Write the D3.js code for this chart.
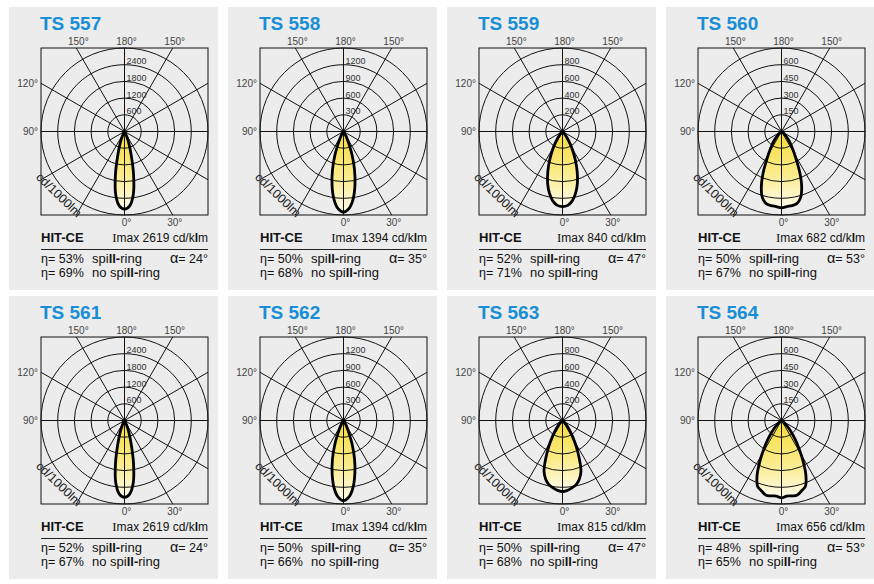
<!DOCTYPE html>
<html><head><meta charset="utf-8">
<script src="https://cdn.jsdelivr.net/npm/d3@7"></script>
<style>
body{margin:0;background:#fff}
svg{display:block}
text{font-family:"Liberation Sans",Arial,Helvetica,sans-serif}
</style>
</head><body>
<svg id="chart" width="874" height="584"></svg>
<script>
// ---------- data ----------
const panelNames = ["TS 557","TS 558","TS 559","TS 560","TS 561","TS 562","TS 563","TS 564"];
const lampTypes = ["HIT-CE","HIT-CE","HIT-CE","HIT-CE","HIT-CE","HIT-CE","HIT-CE","HIT-CE"];
const imaxValues = [2619,1394,840,682,2619,1394,815,656];
const etaSpill = [53,50,52,50,52,50,50,48];
const etaNoSpill = [69,68,71,67,67,66,68,65];
const alphaValues = [24,35,47,53,24,35,47,53];
const ringSteps = [600,300,200,150,600,300,200,150];
const angleTicks = ["180°","150°","150°","120°","90°","0°","30°"];
const unitLabel = "cd/1000lm";
// half-profile angles (degrees from nadir), profile symmetric
const lobeAngles = [0,4,8,12,16,20,24,28,32,36,40,45,50,55,60];
const lobe557 = [2790,2680,2280,1560,860,470,220,70,0,0,0,0,0,0,0];
const lobe558 = [1450,1390,1230,990,720,450,220,110,40,0,0,0,0,0,0];
const lobe559 = [900,887,839,755,647,515,383,264,168,96,48,12,0,0,0];
const lobe560 = [686,676,672,662,620,530,404,278,198,139,99,54,27,0,0];
const lobe561 = [2760,2650,2260,1550,860,470,220,70,0,0,0,0,0,0,0];
const lobe562 = [1440,1380,1220,980,720,450,220,110,40,0,0,0,0,0,0];
const lobe563 = [851,839,815,785,731,647,491,347,228,144,84,36,0,0,0];
const lobe564 = [695,680,684,684,656,629,539,413,296,207,135,72,27,0,0];
const lobeValues = [lobe557,lobe558,lobe559,lobe560,lobe561,lobe562,lobe563,lobe564];

// ---------- layout ----------
const colX = [9,228,447,666];
const rowY = [7,296];
const panelW = 209, panelH = 283;
const cx = 115.5, cy = 124.5, R = 83.5;

const svg = d3.select("#chart");
svg.append("rect").attr("width",874).attr("height",584).attr("fill","#fff");
const defs = svg.append("defs");
const grad = defs.append("linearGradient").attr("id","lobeFill")
  .attr("x1",0).attr("y1",0).attr("x2",0).attr("y2",1);
grad.append("stop").attr("offset","0%").attr("stop-color","#f5db38");
grad.append("stop").attr("offset","55%").attr("stop-color","#faeb8a");
grad.append("stop").attr("offset","100%").attr("stop-color","#fffbec");

const rad = d => d*Math.PI/180;

panelNames.forEach((name,i)=>{
  const px = colX[i%4], py = rowY[Math.floor(i/4)];
  const g = svg.append("g").attr("transform",`translate(${px},${py})`);
  g.append("rect").attr("width",panelW).attr("height",panelH).attr("fill","#ececec");

  const step = ringSteps[i];
  const rScale = d3.scaleLinear().domain([0,step*5]).range([0,R]);
  const c = g.append("g").attr("transform",`translate(${cx},${cy})`);

  // lobe path
  const vals = lobeValues[i];
  let last = vals.findIndex(v=>v===0); if(last<0) last = vals.length-1;
  const pts = [];
  for(let k=last;k>=0;k--) pts.push([lobeAngles[k],vals[k]]);
  for(let k=1;k<=last;k++) pts.push([-lobeAngles[k],vals[k]]);
  const line = d3.lineRadial()
    .angle(d=>Math.PI+rad(d[0]))
    .radius(d=>rScale(d[1]))
    .curve(d3.curveCatmullRom.alpha(0.5));
  const dPath = line(pts)+"Z";
  c.append("path").attr("d",dPath).attr("fill","url(#lobeFill)");

  // rings
  for(let k=1;k<=5;k++){
    c.append("circle").attr("r",rScale(step*k)).attr("fill","none")
      .attr("stroke","#111").attr("stroke-width",1);
  }
  // spokes
  for(let a=0;a<180;a+=30){
    const dx=Math.sin(rad(a)), dy=Math.cos(rad(a));
    const t=Math.min(Math.abs(dx)>1e-9?R/Math.abs(dx):Infinity, Math.abs(dy)>1e-9?R/Math.abs(dy):Infinity);
    c.append("line").attr("x1",-t*dx).attr("y1",-t*dy).attr("x2",t*dx).attr("y2",t*dy)
      .attr("stroke","#111").attr("stroke-width",1);
  }
  // box
  c.append("rect").attr("x",-R).attr("y",-R).attr("width",2*R).attr("height",2*R)
    .attr("fill","none").attr("stroke","#111").attr("stroke-width",1);
  // lobe outline
  c.append("path").attr("d",dPath).attr("fill","none").attr("stroke","#000")
    .attr("stroke-width",2.8).attr("stroke-linejoin","round");

  // ring labels
  for(let k=1;k<=4;k++){
    c.append("text").attr("x",2).attr("y",-rScale(step*k)-0.5)
      .attr("font-size",9).attr("fill","#333").text(step*k);
  }
  // angle labels
  const off = R*Math.tan(rad(30));
  const degFont = 10, degCol = "#444";
  c.append("text").attr("x",2).attr("y",-R-3).attr("text-anchor","middle").attr("font-size",degFont).attr("fill",degCol).text(angleTicks[0]);
  c.append("text").attr("x",-off+2).attr("y",-R-3).attr("text-anchor","middle").attr("font-size",degFont).attr("fill",degCol).text(angleTicks[1]);
  c.append("text").attr("x",off+2).attr("y",-R-3).attr("text-anchor","middle").attr("font-size",degFont).attr("fill",degCol).text(angleTicks[2]);
  c.append("text").attr("x",-R-3).attr("y",-off+3.5).attr("text-anchor","end").attr("font-size",degFont).attr("fill",degCol).text(angleTicks[3]);
  c.append("text").attr("x",-R-3).attr("y",3.5).attr("text-anchor","end").attr("font-size",degFont).attr("fill",degCol).text(angleTicks[4]);
  c.append("text").attr("x",2).attr("y",R+11).attr("text-anchor","middle").attr("font-size",degFont).attr("fill",degCol).text(angleTicks[5]);
  c.append("text").attr("x",off+2).attr("y",R+11).attr("text-anchor","middle").attr("font-size",degFont).attr("fill",degCol).text(angleTicks[6]);
  // unit label
  c.append("text").attr("transform",`translate(${-68.5},${66.5}) rotate(44)`)
    .attr("text-anchor","middle").attr("font-size",12.5).attr("fill","#222").text(unitLabel);

  // title
  g.append("text").attr("x",31).attr("y",23).attr("font-size",19).attr("font-weight","bold")
    .attr("fill","#188ed6").text(name);

  // info block
  const left = 32, right = 199;
  g.append("text").attr("x",left).attr("y",235).attr("font-size",13).attr("font-weight","bold")
    .attr("fill","#111").text(lampTypes[i]);
  const im = g.append("text").attr("x",right).attr("y",235).attr("text-anchor","end")
    .attr("font-size",12).attr("fill","#111");
  im.append("tspan").attr("font-family","'Liberation Serif','Times New Roman',serif").attr("font-size",13).text("I");
  im.append("tspan").text(`max ${imaxValues[i]} cd/k`);
  im.append("tspan").attr("font-weight","bold").text("l");
  im.append("tspan").text("m");
  g.append("line").attr("x1",left).attr("x2",right).attr("y1",242.5).attr("y2",242.5)
    .attr("stroke","#222").attr("stroke-width",1);

  const r2 = g.append("text").attr("x",left).attr("y",255.5).attr("font-size",12.5).attr("fill","#111");
  r2.append("tspan").text(`η= ${etaSpill[i]}%`);
  const s2 = g.append("text").attr("x",83).attr("y",255.5).attr("font-size",13).attr("fill","#111");
  s2.append("tspan").text("spi"); s2.append("tspan").attr("font-weight","bold").text("ll-"); s2.append("tspan").text("ring");
  const al = g.append("text").attr("x",right).attr("y",255.5).attr("text-anchor","end").attr("font-size",12.5).attr("fill","#111");
  al.append("tspan").attr("font-size",14.5).text("α");
  al.append("tspan").text(`= ${alphaValues[i]}°`);

  g.append("text").attr("x",left).attr("y",269.5).attr("font-size",12.5).attr("fill","#111").text(`η= ${etaNoSpill[i]}%`);
  const s3 = g.append("text").attr("x",83).attr("y",269.5).attr("font-size",13).attr("fill","#111");
  s3.append("tspan").text("no spi"); s3.append("tspan").attr("font-weight","bold").text("ll-"); s3.append("tspan").text("ring");
});
</script>
</body></html>
